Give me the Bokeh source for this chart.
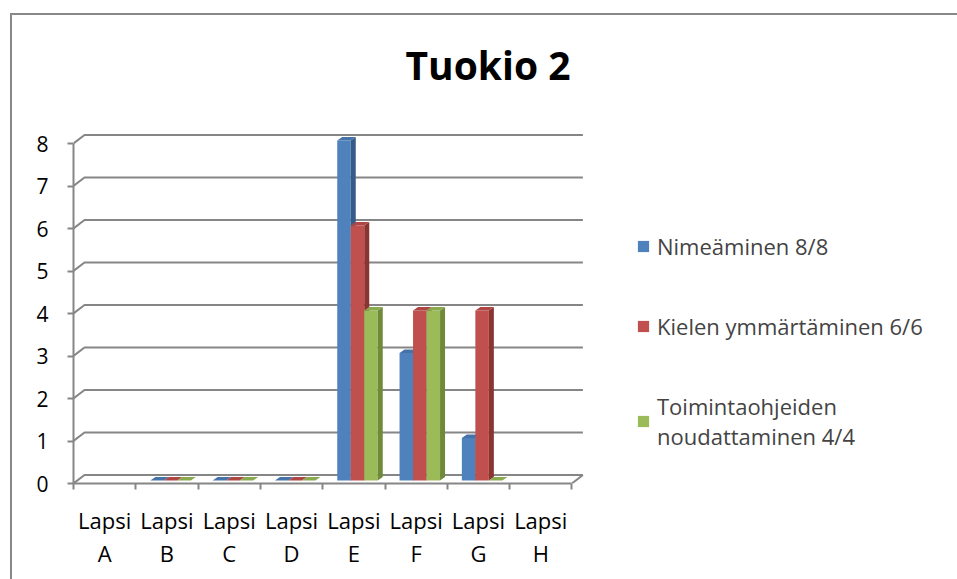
from bokeh.plotting import figure
from bokeh.models import Range1d, FixedTicker, Legend, LegendItem, Label
from bokeh.embed import file_html
from bokeh.resources import INLINE

# ---------------- data ----------------
categories = ["Lapsi A", "Lapsi B", "Lapsi C", "Lapsi D", "Lapsi E", "Lapsi F", "Lapsi G", "Lapsi H"]
series_names = ["Nimeäminen 8/8", "Kielen ymmärtäminen 6/6", "Toimintaohjeiden\nnoudattaminen 4/4"]
nimeaminen = [None, 0, 0, 0, 8, 3, 1, None]
kielen = [None, 0, 0, 0, 6, 4, 4, None]
toiminta = [None, 0, 0, 0, 4, 4, 0, None]
y_ticks = [0, 1, 2, 3, 4, 5, 6, 7, 8]
title_text = "Tuokio 2"

series = [nimeaminen, kielen, toiminta]
front_colors = ["#4F81BD", "#C0504D", "#9BBB59"]
side_colors = ["#375B88", "#8A3532", "#6E8A3A"]
top_colors = ["#4672AA", "#AE4744", "#8AAA4E"]
FONT = "Open Sans"
GRAY = "#868686"

# ---------------- geometry (pixels per unit) ----------------
PX_X = 62.3
PX_Y = 42.5
FRAME_W = 884
FRAME_H = 468
BAR_W = 13.5 / PX_X
BAR_OX = 3.65 / PX_X
BAR_OY = 3.0 / PX_Y
DEP_X = 5.0 / PX_X
DEP_Y = 3.5 / PX_Y
WALL_X = 11.0 / PX_X
WALL_Y = 8.5 / PX_Y
n_cat = len(categories)

p = figure(frame_width=FRAME_W, frame_height=FRAME_H,
           x_range=Range1d(0, FRAME_W / PX_X), y_range=Range1d(0, FRAME_H / PX_Y),
           output_backend="svg", toolbar_location=None,
           min_border_left=61, min_border_right=0, min_border_top=0, min_border_bottom=86)
p.outline_line_color = None
p.xgrid.visible = False
p.ygrid.visible = False
p.background_fill_color = "white"
p.border_fill_color = "white"
p.styles = {"border-left": "2px solid #888888", "border-top": "2px solid #888888",
            "margin-left": "10px", "margin-top": "13px", "padding-bottom": "20px"}

# ---------------- back wall gridlines + left wall diagonals ----------------
gx, gy = [], []
for v in y_ticks:
    gx.append([0, WALL_X, n_cat + WALL_X])
    gy.append([v, v + WALL_Y, v + WALL_Y])
# floor right edge
gx.append([n_cat, n_cat + WALL_X])
gy.append([0, WALL_Y])
p.multi_line(gx, gy, line_color=GRAY, line_width=2)

# ---------------- bars ----------------
renderers = []
for j, vals in enumerate(series):
    xs_front, tops = [], []
    side_xs, side_ys, top_xs, top_ys = [], [], [], []
    for i, v in enumerate(vals):
        if v is None:
            continue
        cx = i + 0.5 + BAR_OX + (j - 1) * BAR_W
        l, r = cx - BAR_W / 2, cx + BAR_W / 2
        b, t = BAR_OY, v + BAR_OY
        xs_front.append(cx)
        tops.append(t)
        if v > 0:
            side_xs.append([r, r + DEP_X, r + DEP_X, r])
            side_ys.append([b, b + DEP_Y, t + DEP_Y, t])
        top_xs.append([l, l + DEP_X, r + DEP_X, r])
        top_ys.append([t, t + DEP_Y, t + DEP_Y, t])
    rf = p.vbar(x=xs_front, top=tops, bottom=BAR_OY, width=BAR_W,
                fill_color=front_colors[j], line_color=None)
    p.patches(side_xs, side_ys, fill_color=side_colors[j], line_color=None)
    p.patches(top_xs, top_ys, fill_color=top_colors[j], line_color=None)
    renderers.append(rf)

# ---------------- axes ----------------
ya = p.yaxis[0]
ya.ticker = FixedTicker(ticks=y_ticks)
ya.bounds = (0, 8)
ya.axis_line_color = GRAY
ya.axis_line_width = 2
ya.major_tick_line_color = GRAY
ya.major_tick_line_width = 2
ya.major_tick_out = 6
ya.major_tick_in = 0
ya.minor_tick_line_color = None
ya.major_label_standoff = 19
ya.major_label_text_font = FONT
ya.major_label_text_font_size = "21px"
ya.major_label_text_color = "black"

xa = p.xaxis[0]
xa.ticker = FixedTicker(ticks=[i + 0.5 for i in range(n_cat)],
                        minor_ticks=list(range(n_cat + 1)))
xa.bounds = (0, n_cat)
xa.major_label_overrides = {i + 0.5: c.replace(" ", "\n") for i, c in enumerate(categories)}
xa.axis_line_color = GRAY
xa.axis_line_width = 2
xa.major_tick_line_color = None
xa.major_tick_out = 0
xa.major_tick_in = 0
xa.minor_tick_line_color = GRAY
xa.minor_tick_line_width = 2
xa.minor_tick_out = 6
xa.minor_tick_in = 0
xa.major_label_standoff = 15
xa.major_label_text_font = FONT
xa.major_label_text_font_size = "22px"
xa.major_label_text_color = "black"
xa.major_label_text_line_height = 1.13

# ---------------- title ----------------
p.add_layout(Label(x=(487.5 - 73) / PX_X, y=(483 - 63.5) / PX_Y, text=title_text,
                   text_font=FONT, text_font_style="bold", text_font_size="39px",
                   text_align="center", text_baseline="middle", text_color="black"))

# ---------------- legend ----------------
legend = Legend(items=[LegendItem(label=n, renderers=[r]) for n, r in zip(series_names, renderers)],
                location=(563, 32), orientation="vertical",
                glyph_width=14, glyph_height=14, label_standoff=7, spacing=50,
                padding=0, margin=0, border_line_color=None, background_fill_alpha=0,
                label_text_font=FONT, label_text_font_size="22px", label_text_line_height=1.8,
                label_height=30)
p.add_layout(legend)

open("out.html", "w").write(file_html(p, INLINE))
